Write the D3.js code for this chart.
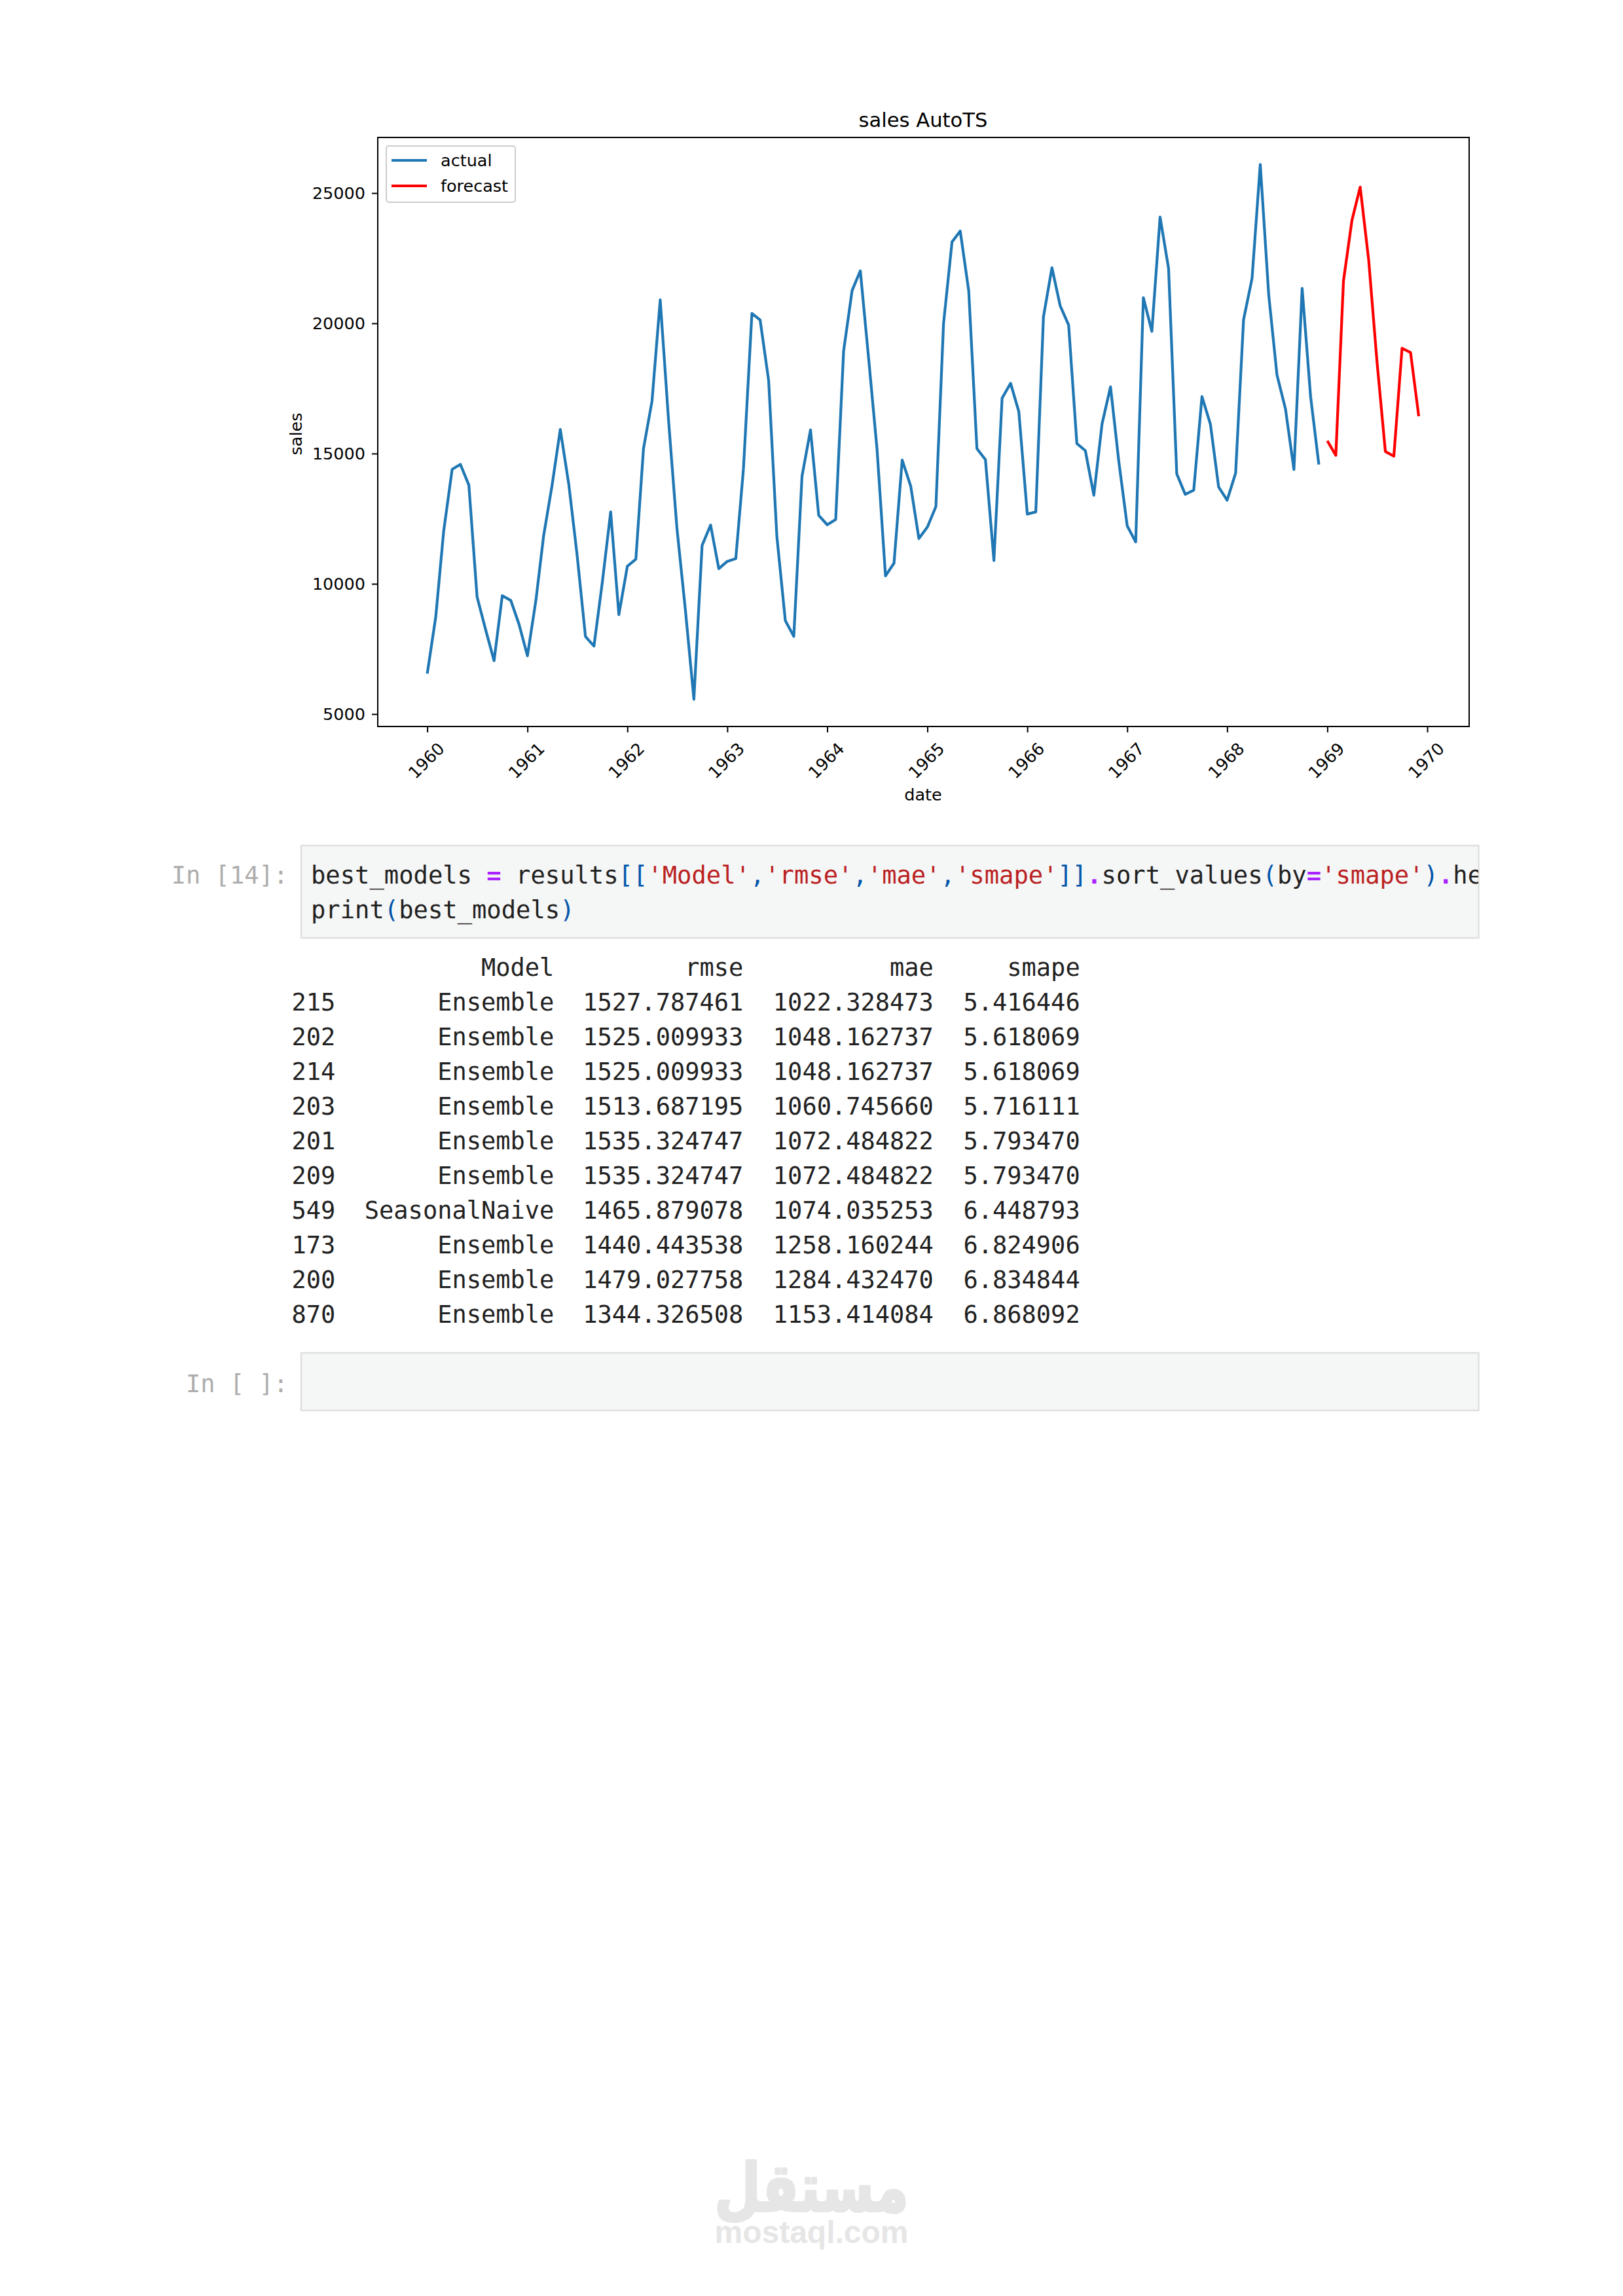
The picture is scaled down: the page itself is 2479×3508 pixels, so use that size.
<!DOCTYPE html>
<html><head><meta charset="utf-8">
<script src="https://cdn.jsdelivr.net/npm/d3@7"></script>
<style>html,body{margin:0;padding:0;background:#fff}svg{display:block}</style>
</head><body><svg id="page" width="2479" height="3508" xmlns="http://www.w3.org/2000/svg"></svg>
<script>
// ---- data ----
const actual = [
 6550,8728,12026,14395,14587,13791,9498,8251,7049,9545,9364,8456,
 7237,9374,11837,13784,15926,13821,11143,7975,7610,10015,12759,8816,
 10677,10947,15200,17010,20900,16205,12143,8997,5568,11474,12256,10583,
 10862,10965,14405,20379,20128,17816,11840,8589,7983,14129,15909,12628,
 12267,12470,18944,21259,22015,18581,15175,10306,10792,14752,13754,11738,
 12181,12965,19990,23125,23541,21247,15189,14767,10895,17130,17697,16611,
 12674,12760,20249,22135,20677,19933,15388,15113,13401,16135,17562,14720,
 12225,11608,20985,19692,24081,22114,14220,13434,13598,17187,16119,13713,
 13210,14251,20139,21725,26099,21084,18024,16722,14385,21342,17180,14577];
const forecast = [15490,14930,21630,23960,25230,22440,18580,15080,14900,19040,18880,16430];
const yearTicks = [1960,1961,1962,1963,1964,1965,1966,1967,1968,1969,1970];
const salesTicks = [5000,10000,15000,20000,25000];
const seriesNames = ["actual","forecast"];
const seriesColors = ["#1f77b4","#ff0000"];
const chartTitle = "sales AutoTS", xLabel = "date", yLabel = "sales";

const rowIds = ["215","202","214","203","201","209","549","173","200","870"];
const rowModels = ["Ensemble","Ensemble","Ensemble","Ensemble","Ensemble","Ensemble","SeasonalNaive","Ensemble","Ensemble","Ensemble"];
const rowRmse = ["1527.787461","1525.009933","1525.009933","1513.687195","1535.324747","1535.324747","1465.879078","1440.443538","1479.027758","1344.326508"];
const rowMae = ["1022.328473","1048.162737","1048.162737","1060.745660","1072.484822","1072.484822","1074.035253","1258.160244","1284.432470","1153.414084"];
const rowSmape = ["5.416446","5.618069","5.618069","5.716111","5.793470","5.793470","6.448793","6.824906","6.834844","6.868092"];
const colHeads = ["Model","rmse","mae","smape"];
const codeLine1 = [["best_models ","t"],["=","o"],[" results","t"],["[[","b"],["'Model'","s"],[",","b"],["'rmse'","s"],[",","b"],["'mae'","s"],[",","b"],["'smape'","s"],["]]","b"],[".","o"],["sort_values","t"],["(","b"],["by","t"],["=","o"],["'smape'","s"],[")","b"],[".","o"],["he","t"]];
const codeLine2 = [["print","t"],["(","b"],["best_models","t"],[")","b"]];

// ---- layout ----
const svg = d3.select("#page");
const sans = "'DejaVu Sans'", mono = "'DejaVu Sans Mono'";
const box = {l:577,r:2244,t:210,b:1110};
const monthDates = (startYear,n)=>d3.range(n).map(i=>new Date(Date.UTC(startYear,i,1)));
const x = d3.scaleUtc().domain([new Date(Date.UTC(1960,0,1)),new Date(Date.UTC(1970,0,1))]).range([652.6,2180]);
const y = d3.scaleLinear().domain([5000,25000]).range([1091,295]);

const line = d3.line().x(d=>x(d[0])).y(d=>y(d[1]));
const chart = svg.append("g");
const lineW = 4.2;
chart.append("path").attr("d",line(d3.zip(monthDates(1960,actual.length),actual)))
  .attr("fill","none").attr("stroke",seriesColors[0]).attr("stroke-width",lineW).attr("stroke-linejoin","round");
chart.append("path").attr("d",line(d3.zip(monthDates(1969,forecast.length),forecast)))
  .attr("fill","none").attr("stroke",seriesColors[1]).attr("stroke-width",lineW).attr("stroke-linejoin","round");
chart.append("rect").attr("x",box.l).attr("y",box.t).attr("width",box.r-box.l).attr("height",box.b-box.t)
  .attr("fill","none").attr("stroke","#000").attr("stroke-width",2);

const xAxis = chart.append("g").attr("transform",`translate(0,${box.b})`)
  .call(d3.axisBottom(x).tickValues(yearTicks.map(v=>new Date(Date.UTC(v,0,1)))).tickFormat(d3.utcFormat("%Y")).tickSize(9).tickPadding(0));
xAxis.select(".domain").remove();
xAxis.selectAll("line").attr("stroke","#000").attr("stroke-width",2);
xAxis.selectAll("text").attr("font-family",sans).attr("font-size",25.5).attr("fill","#000")
  .attr("text-anchor","middle").attr("dy",null).attr("y",0)
  .attr("dominant-baseline","central").attr("transform","translate(-2,52) rotate(-45)");

const yAxis = chart.append("g").attr("transform",`translate(${box.l},0)`)
  .call(d3.axisLeft(y).tickValues(salesTicks).tickFormat(d3.format("d")).tickSize(9).tickPadding(10));
yAxis.select(".domain").remove();
yAxis.selectAll("line").attr("stroke","#000").attr("stroke-width",2);
yAxis.selectAll("text").attr("font-family",sans).attr("font-size",25.5).attr("fill","#000");

chart.append("text").text(chartTitle).attr("x",1410).attr("y",194).attr("text-anchor","middle")
  .attr("font-family",sans).attr("font-size",30.6).attr("fill","#000");
chart.append("text").text(xLabel).attr("x",1410).attr("y",1223).attr("text-anchor","middle")
  .attr("font-family",sans).attr("font-size",25.5).attr("fill","#000");
chart.append("text").text(yLabel).attr("transform","translate(461,663) rotate(-90)").attr("text-anchor","middle")
  .attr("font-family",sans).attr("font-size",25.5).attr("fill","#000");

// legend
const lg = chart.append("g");
lg.append("rect").attr("x",590).attr("y",223).attr("width",197).attr("height",86).attr("rx",4)
  .attr("fill","#fff").attr("fill-opacity",.8).attr("stroke","#ccc").attr("stroke-width",2);
seriesNames.forEach((n,i)=>{
  const ly = 245 + i*39;
  lg.append("line").attr("x1",598).attr("x2",652).attr("y1",ly).attr("y2",ly).attr("stroke",seriesColors[i]).attr("stroke-width",lineW);
  lg.append("text").text(n).attr("x",673).attr("y",ly+9).attr("font-family",sans).attr("font-size",25.5).attr("fill","#000");
});

// notebook cells
const nb = svg.append("g").attr("font-family",mono).attr("font-size",37);
const cell = (top,bottom)=>nb.append("rect").attr("x",460).attr("y",top).attr("width",1798.5).attr("height",bottom-top)
  .attr("fill","#f5f6f6").attr("stroke","#e0e0e0").attr("stroke-width",2.5);
cell(1292,1433);
cell(2067,2155);
svg.append("defs").append("clipPath").attr("id","codeClip").append("rect").attr("x",460).attr("y",1292).attr("width",1798).attr("height",141);

const prompt = (s,by)=>nb.append("text").text(s).attr("x",440).attr("y",by).attr("text-anchor","end").attr("fill","#adadad").style("white-space","pre");
prompt("In [14]:",1350);
prompt("In [ ]:",2127);

const tokenColor = {t:"#212121",o:"#aa22ff",b:"#0055aa",s:"#ba2121"};
const codeText = (tokens,by)=>{
  const t = nb.append("text").attr("x",475).attr("y",by).attr("font-size",37.15).attr("clip-path","url(#codeClip)").style("white-space","pre");
  t.selectAll("tspan").data(tokens).join("tspan").text(d=>d[0]).attr("fill",d=>tokenColor[d[1]])
    .attr("font-weight",d=>d[1]==="o"?"bold":null);
};
codeText(codeLine1,1350);
codeText(codeLine2,1403);

// output table: one text per column, right-aligned on the character grid
const charW = 22.3, tableX = 445.5, headY = 1491, rowH = 53;
const colEnd = n => tableX + n*charW;
const rowY = d3.range(rowIds.length).map(i=>headY + (i+1)*rowH);
const column = (vals,endChar,head,nudge=0)=>{
  nb.selectAll(null).data(vals).join("text").text(d=>d)
    .attr("x",colEnd(endChar)+nudge).attr("y",(d,i)=>rowY[i]).attr("text-anchor","end").attr("fill","#212121");
  if(head) nb.append("text").text(head).attr("x",colEnd(endChar)+nudge).attr("y",headY).attr("text-anchor","end").attr("fill","#212121");
};
column(rowIds,3);
column(rowModels,18,colHeads[0],-0.5);
column(rowRmse,31,colHeads[1],-1.5);
column(rowMae,44,colHeads[2],-0.8);
column(rowSmape,54,colHeads[3]);

// watermark
const wm = svg.append("g").attr("fill","#e6e6e6");
wm.append("text").text("mostaql.com").attr("x",1239.5).attr("y",3427).attr("text-anchor","middle")
  .attr("font-family","'Liberation Sans'").attr("font-weight","bold").attr("font-size",48);
const ar = wm.append("text").text("مستقل").attr("font-family",sans).attr("font-weight","bold").attr("font-size",120).attr("direction","rtl")
  .attr("stroke","#e6e6e6").attr("stroke-width",5).attr("stroke-linejoin","round");
const bb = ar.node().getBBox();
const sx = 296/bb.width, sy = 0.85;
ar.attr("transform",`translate(${1239.5-(bb.x+bb.width/2)*sx},3378) scale(${sx},${sy})`);
</script></body></html>
